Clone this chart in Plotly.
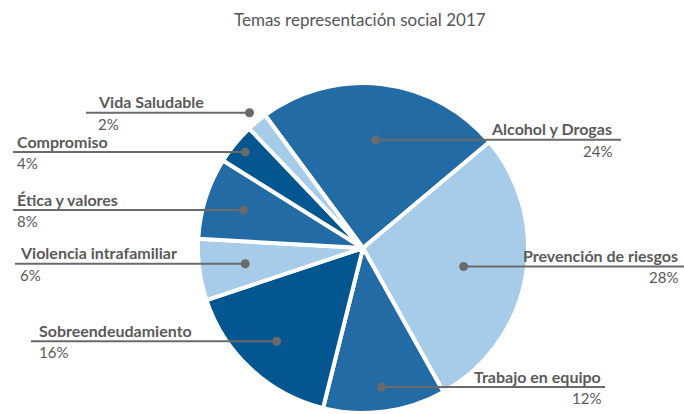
import math
import plotly.graph_objects as go

# ---- data ----
categories = ["Alcohol y Drogas", "Prevención de riesgos", "Trabajo en equipo",
              "Sobreendeudamiento", "Violencia intrafamiliar", "Ética y valores",
              "Compromiso", "Vida Saludable"]
values = [24, 28, 12, 16, 6, 8, 4, 2]
pct_labels = ["24%", "28%", "12%", "16%", "6%", "8%", "4%", "2%"]
title_text = "Temas representación social 2017"

# ---- styles / layout ----
MED, LIGHT, DARK = "#236ba4", "#a6cce9", "#03568f"
slice_colors = [MED, LIGHT, MED, DARK, LIGHT, MED, DARK, LIGHT]
W, H = 684, 414
CX, CY, R = 363, 248, 165
ROT = -36.4
dot_frac = [0.66, 0.62, 0.85, 0.77, 0.72, 0.76, 0.92, 1.07]
side = ["r", "r", "r", "l", "l", "l", "l", "l"]
label_x = [614, 680, 603, 37, 18, 15, 15, 96]
line_outer = [621, 684, 605, 31, 15, 13, 13, 86]
TXT = "#5a5a5a"
LINE = "#6a6a6a"
FONT = "Lato"


def px(x):
    return x / W


def py(y):
    return 1 - y / H


fig = go.Figure(go.Pie(
    labels=categories, values=values, sort=False, direction="clockwise",
    rotation=ROT, textinfo="none", hoverinfo="label+percent",
    marker=dict(colors=slice_colors, line=dict(color="white", width=4)),
    domain=dict(x=[px(CX - R), px(CX + R)], y=[py(CY + R), py(CY - R)]),
    showlegend=False,
))

shapes, annotations = [], []
total = sum(values)
cum = 0
for i, v in enumerate(values):
    ang = math.radians(ROT + (cum + v / 2) / total * 360)
    cum += v
    dx = CX + dot_frac[i] * R * math.sin(ang)
    dy = CY - dot_frac[i] * R * math.cos(ang)
    x0, x1 = (dx, line_outer[i]) if side[i] == "r" else (line_outer[i], dx)
    shapes.append(dict(type="line", xref="paper", yref="paper",
                       x0=px(x0), x1=px(x1), y0=py(dy), y1=py(dy),
                       line=dict(color=LINE, width=2)))
    rr = 4.5
    shapes.append(dict(type="circle", xref="paper", yref="paper",
                       x0=px(dx - rr), x1=px(dx + rr), y0=py(dy + rr), y1=py(dy - rr),
                       fillcolor=LINE, line=dict(width=0)))
    anchor = "right" if side[i] == "r" else "left"
    annotations.append(dict(x=px(label_x[i]), y=py(dy - 11), xref="paper", yref="paper",
                            text="<b>" + categories[i] + "</b>", showarrow=False,
                            xanchor=anchor, yanchor="middle",
                            font=dict(family=FONT, size=16, color=TXT)))
    annotations.append(dict(x=px(label_x[i]), y=py(dy + 11), xref="paper", yref="paper",
                            text=pct_labels[i], showarrow=False,
                            xanchor=anchor, yanchor="middle",
                            font=dict(family=FONT, size=15, color=TXT)))

annotations.append(dict(x=px(360), y=py(20), xref="paper", yref="paper",
                        text=title_text, showarrow=False, xanchor="center", yanchor="middle",
                        font=dict(family=FONT, size=17, color="#555555")))

fig.update_layout(width=W, height=H, margin=dict(l=0, r=0, t=0, b=0),
                  paper_bgcolor="white", plot_bgcolor="white",
                  shapes=shapes, annotations=annotations)

fig.write_html("out.html", config={"displayModeBar": False},
               post_script="document.body.style.margin='0';document.body.style.overflow='hidden';")
